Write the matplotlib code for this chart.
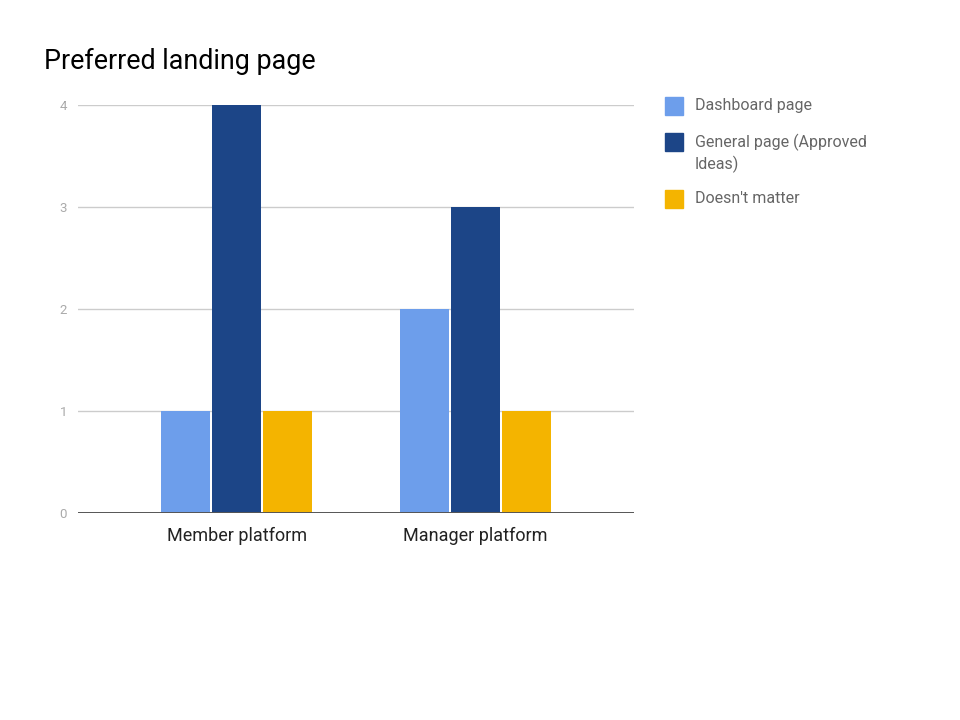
import numpy as np
import matplotlib.pyplot as plt
from matplotlib.patches import Rectangle

plt.rcParams['font.family'] = ['Roboto', 'DejaVu Sans']

categories = ["Member platform", "Manager platform"]
series = ["Dashboard page", "General page (Approved\nIdeas)", "Doesn't matter"]
dashboard = [1, 2]
general = [4, 3]
doesnt_matter = [1, 1]
colors = ["#6d9eeb", "#1c4587", "#f4b400"]

fig = plt.figure(figsize=(9.6, 7.2), dpi=100)
ax = fig.add_axes([0.08125, 0.2875, 0.5792, 0.5667])

x = np.arange(len(categories))
step = 0.2134
width = 0.205
for i, vals in enumerate([dashboard, general, doesnt_matter]):
    ax.bar(x + (i - 1) * step, vals, width, color=colors[i], zorder=3)

ax.set_xlim(-0.665, 1.665)
ax.set_ylim(0, 4)
ax.set_yticks([0, 1, 2, 3, 4])
ax.yaxis.grid(True, color="#cccccc", linewidth=1, zorder=0)
ax.axhline(0, color="#555555", linewidth=1.4, zorder=4)
for s in ax.spines.values():
    s.set_visible(False)
ax.tick_params(axis="y", length=0, labelsize=9.5, labelcolor="#aaaaaa", pad=8)
ax.tick_params(axis="x", length=0, labelsize=13, labelcolor="#222222", pad=10)
ax.set_xticks(x)
ax.set_xticklabels(categories)

fig.text(44 / 960, 1 - 61 / 720, "Preferred landing page", fontsize=19.4,
         color="#000000", va="center", ha="left")

# legend drawn by hand to match the layout
ys = [106, 142, 199]
for lab, col, y in zip(series, colors, ys):
    fig.patches.append(Rectangle((665 / 960, 1 - (y + 9) / 720), 18 / 960, 18 / 720,
                                 transform=fig.transFigure, color=col))
    fig.text(695 / 960, 1 - (y - 8) / 720, lab, fontsize=11.5, color="#666666",
             va="top", ha="left", linespacing=1.3)

fig.savefig("out.png", dpi=100)
